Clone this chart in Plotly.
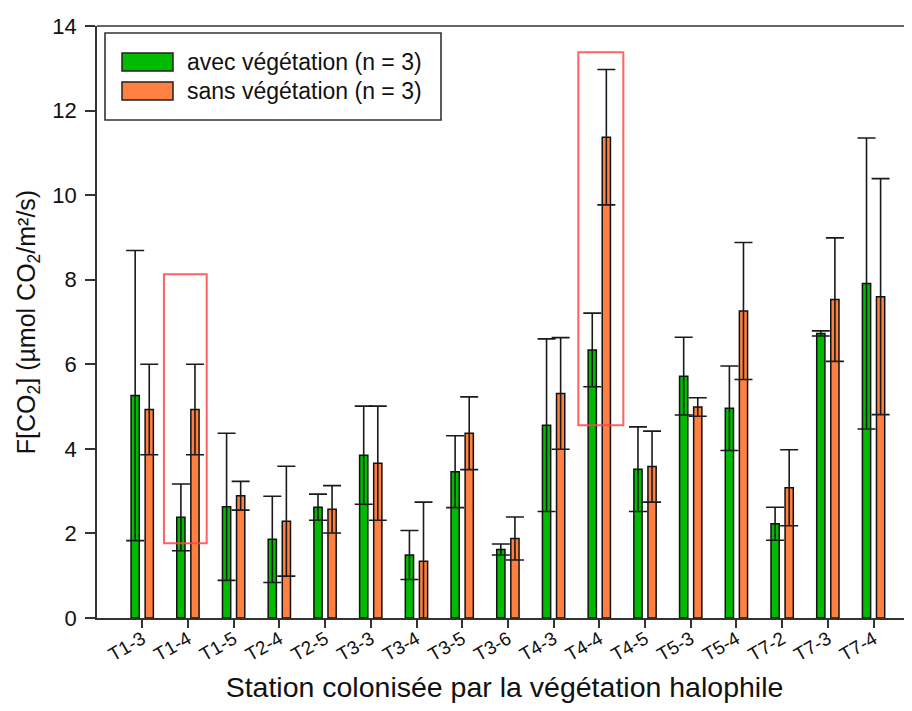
import plotly.graph_objects as go

# ---- data ----
stations = ["T1-3", "T1-4", "T1-5", "T2-4", "T2-5", "T3-3", "T3-4", "T3-5", "T3-6",
            "T4-3", "T4-4", "T4-5", "T5-3", "T5-4", "T7-2", "T7-3", "T7-4"]
avec_vals = [5.26, 2.38, 2.63, 1.86, 2.62, 3.85, 1.49, 3.46, 1.62,
             4.56, 6.34, 3.52, 5.72, 4.96, 2.23, 6.73, 7.91]
avec_err = [3.43, 0.79, 1.74, 1.02, 0.31, 1.16, 0.58, 0.85, 0.13,
            2.04, 0.87, 1.00, 0.92, 1.00, 0.39, 0.06, 3.44]
sans_vals = [4.93, 4.93, 2.89, 2.29, 2.57, 3.66, 1.34, 4.37, 1.88,
             5.31, 11.37, 3.58, 4.99, 7.26, 3.08, 7.53, 7.60]
sans_err = [1.07, 1.07, 0.34, 1.30, 0.56, 1.35, 1.40, 0.86, 0.51,
            1.32, 1.60, 0.84, 0.22, 1.62, 0.90, 1.46, 2.79]
series_names = ["avec végétation (n = 3)", "sans végétation (n = 3)"]
y_ticks = [0, 2, 4, 6, 8, 10, 12, 14]
# highlighted stations: (station, left offset, right offset, y bottom, y top)
highlights = [("T1-4", -0.525, 0.41, 1.77, 8.13),
              ("T4-4", -0.46, 0.525, 4.56, 13.38)]

GREEN = "#00bb00"
ORANGE = "#ff8040"
FONT = "Liberation Sans, Arial, sans-serif"

# page has an 8px body margin; figure sized to fit the 912x711 window
OFF = 8
W, H = 912 - OFF, 711 - 2 * OFF
PLOT_L, PLOT_T, PLOT_B = 97, 26, 618          # page pixels
ML, MT, MR = PLOT_L - OFF, PLOT_T - OFF, 0
MB = H - (PLOT_B - OFF)


def px(xp):
    return (xp - OFF - ML) / (W - ML - MR)


def py(yp):
    return (H - MB - (yp - OFF)) / (H - MT - MB)


fig = go.Figure()
bar_w = 0.18
for vals, errs, color, off, name in [
    (avec_vals, avec_err, GREEN, -0.245, series_names[0]),
    (sans_vals, sans_err, ORANGE, 0.063, series_names[1]),
]:
    fig.add_trace(go.Bar(
        x=stations, y=vals, name=name, width=bar_w, offset=off,
        marker=dict(color=color, line=dict(color="#111111", width=1.5)),
        error_y=dict(type="data", array=errs, visible=True, color="#1a1a1a",
                     thickness=1.6, width=9),
        showlegend=False,
    ))

# red highlight rectangles
for st, l, r, y0, y1 in highlights:
    i = stations.index(st)
    fig.add_shape(type="rect", xref="x", yref="y", x0=i + l, x1=i + r, y0=y0, y1=y1,
                  line=dict(color="rgba(255,70,70,0.85)", width=2), fillcolor="rgba(0,0,0,0)")

# top frame line
fig.add_shape(type="line", xref="paper", yref="paper", x0=0, x1=1, y0=1, y1=1,
              line=dict(color="#333333", width=1.6))

# manual legend
fig.add_shape(type="rect", xref="paper", yref="paper", x0=px(105), x1=px(441), y0=py(120), y1=py(33),
              line=dict(color="#333333", width=1.6), fillcolor="white")
for k, (color, name) in enumerate([(GREEN, series_names[0]), (ORANGE, series_names[1])]):
    top = 53 + k * 29
    fig.add_shape(type="rect", xref="paper", yref="paper", x0=px(122), x1=px(173),
                  y0=py(top + 18), y1=py(top), line=dict(color="#222222", width=1.5), fillcolor=color)
    fig.add_annotation(xref="paper", yref="paper", x=px(185), y=py(top + 9), text=name,
                       showarrow=False, xanchor="left", yanchor="middle",
                       font=dict(family=FONT, size=23, color="#111111"))

fig.update_layout(
    width=W, height=H,
    margin=dict(l=ML, r=MR, t=MT, b=MB, autoexpand=False),
    plot_bgcolor="white", paper_bgcolor="white",
    barmode="overlay",
    font=dict(family=FONT, color="#111111"),
    showlegend=False,
)
fig.update_xaxes(
    type="category", range=[-0.99, 16.84], automargin=False,
    showline=True, linecolor="#333333", linewidth=1.6, mirror=False,
    ticks="outside", ticklen=8, tickwidth=1.5, tickcolor="#333333",
    tickangle=-30, tickfont=dict(size=19, family=FONT, color="#111111"),
    ticklabelstandoff=-7,
    showgrid=False, zeroline=False,
    title=dict(text="Station colonisée par la végétation halophile",
               font=dict(size=28.5, family=FONT, color="#111111"), standoff=22),
)
fig.update_yaxes(
    range=[0, 14], tickvals=y_ticks, automargin=False,
    showline=True, linecolor="#333333", linewidth=1.6,
    ticks="outside", ticklen=10, tickwidth=1.5, tickcolor="#333333",
    tickfont=dict(size=22, family=FONT, color="#111111"),
    ticklabelstandoff=4,
    showgrid=False, zeroline=False,
    title=dict(text="F[CO<sub>2</sub>] (µmol CO<sub>2</sub>/m²/s)",
               font=dict(size=25, family=FONT, color="#111111"), standoff=10),
)

fig.write_html("out.html")
